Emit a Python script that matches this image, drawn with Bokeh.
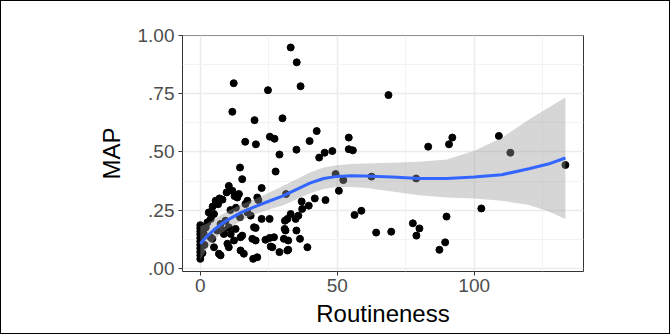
from bokeh.plotting import figure
from bokeh.models import Range1d, FixedTicker
from bokeh.embed import file_html
from bokeh.resources import INLINE

# scatter points (Routineness, MAP)
pts_x = [33.0, 35.2, 36.6, 12.2, 11.7, 24.7, 19.8, 30.0, 16.4, 20.3, 25.4, 27.1, 28.9, 35.1, 42.5,
         39.9, 43.4, 45.4, 48.2, 54.2, 54.2, 55.7, 68.7, 83.2, 90.8, 92.0, 109.0, 113.2, 133.3, 102.6,
         49.4, 52.2, 50.6, 62.5, 78.8, 56.3, 58.8, 64.2, 69.7, 77.6, 80.0, 78.9, 89.9, 89.4, 87.3,
         27.5, 22.4, 21.2, 31.3, 41.8, 45.7, 37.0, 39.6, 37.2, 33.0, 35.8, 34.8, 31.8, 30.9, 22.4,
         25.3, 31.1, 35.1, 30.5, 32.1, 36.4, 25.3, 23.8, 25.7, 39.1, 32.1, 28.9, 20.2, 20.2, 20.8,
         30.8, 26.9, 26.3, 31.8,
         14.5, 15.3, 10.4, 11.7, 9.6, 13.5, 14.1, 17.2, 16.5, 5.6, 7.0, 8.1, 12.5, 20.8, 17.2,
         18.4, 14.5, 19.6, 19.0, 15.3, 14.7, 15.9, 19.3, 8.6, 5.0, 6.8, 10.4, 12.3, 9.2, 3.1,
         2.6, 3.8, 5.0, 6.2, 3.8, 7.4, 10.4, 11.1, 12.9, 9.9, 7.4, 4.4, 8.6, 13.0, 11.0,
         4.5, 6.5, 14.7,
         0.0, 0.0, 0.0, 0.0, 0.0, 0.0, 0.0, 0.0, 0.0, 0.0, 0.0, 0.8, 1.2, 1.5, 2.0]
pts_y = [0.950, 0.886, 0.783, 0.796, 0.673, 0.766, 0.637, 0.645, 0.544, 0.533, 0.566, 0.557, 0.489, 0.510, 0.590,
         0.547, 0.476, 0.497, 0.504, 0.562, 0.512, 0.507, 0.745, 0.523, 0.533, 0.562, 0.569, 0.497, 0.444, 0.257,
         0.405, 0.379, 0.333, 0.394, 0.386, 0.229, 0.247, 0.153, 0.157, 0.193, 0.171, 0.140, 0.222, 0.111, 0.079,
         0.416, 0.345, 0.293, 0.319, 0.300, 0.293, 0.287, 0.269, 0.255, 0.233, 0.226, 0.212, 0.212, 0.204, 0.212,
         0.212, 0.162, 0.162, 0.126, 0.119, 0.126, 0.130, 0.122, 0.093, 0.090, 0.079, 0.069, 0.173, 0.119, 0.047,
         0.169, 0.133, 0.090, 0.076,
         0.433, 0.383, 0.354, 0.333, 0.326, 0.304, 0.319, 0.290, 0.276, 0.290, 0.300, 0.295, 0.310, 0.304, 0.240,
         0.226, 0.219, 0.176, 0.126, 0.140, 0.076, 0.062, 0.040, 0.147, 0.090, 0.062, 0.090, 0.119, 0.204, 0.240,
         0.197, 0.212, 0.233, 0.162, 0.133, 0.190, 0.176, 0.147, 0.169, 0.105, 0.055, 0.126, 0.162, 0.260, 0.250,
         0.265, 0.275, 0.133,
         0.185, 0.172, 0.158, 0.145, 0.130, 0.115, 0.100, 0.085, 0.070, 0.055, 0.040, 0.065, 0.150, 0.100, 0.175]

# loess smooth and its confidence band
sm_x = [0, 2.5, 5, 7.5, 10, 15, 20, 25, 30, 35, 40, 45, 50, 55, 60, 70, 80, 90, 100, 110, 120, 127, 133.3]
sm_y = [0.105, 0.138, 0.165, 0.188, 0.208, 0.240, 0.265, 0.288, 0.310, 0.338, 0.366, 0.386, 0.395, 0.398, 0.397,
        0.392, 0.386, 0.386, 0.392, 0.402, 0.428, 0.448, 0.474]
sm_lo = [0.035, 0.085, 0.120, 0.148, 0.170, 0.205, 0.232, 0.252, 0.270, 0.295, 0.322, 0.341, 0.349, 0.349, 0.346,
         0.330, 0.314, 0.304, 0.300, 0.290, 0.272, 0.245, 0.212]
sm_hi = [0.180, 0.192, 0.210, 0.228, 0.245, 0.275, 0.298, 0.325, 0.352, 0.382, 0.412, 0.433, 0.443, 0.448, 0.450,
         0.454, 0.458, 0.468, 0.505, 0.560, 0.640, 0.690, 0.735]

x_ticks = [0, 50, 100]
x_minor = [25, 75, 125]
y_ticks = [0.0, 0.25, 0.5, 0.75, 1.0]
y_minor = [0.125, 0.375, 0.625, 0.875]
y_labels = [".00", ".25", ".50", ".75", "1.00"]

p = figure(width=670, height=334, output_backend="svg", toolbar_location=None,
           x_range=Range1d(-6.5, 139.9), y_range=Range1d(-0.0145, 1.0015),
           min_border_left=181, min_border_right=88, min_border_top=34, min_border_bottom=64,
           background_fill_color="white", border_fill_color="white",
           styles={"border": "1px solid black"})

p.outline_line_color = "#333333"
p.outline_line_width = 1

xt = FixedTicker(ticks=x_ticks, minor_ticks=x_minor)
yt = FixedTicker(ticks=y_ticks, minor_ticks=y_minor)
p.xaxis.ticker = xt
p.yaxis.ticker = yt
p.xgrid.ticker = xt
p.ygrid.ticker = yt
for g in (p.xgrid, p.ygrid):
    g.grid_line_color = "#EBEBEB"
    g.grid_line_width = 1.5
    g.minor_grid_line_color = "#F3F3F3"
    g.minor_grid_line_width = 1

p.yaxis.major_label_overrides = {t: l for t, l in zip(y_ticks, y_labels)}

for ax in (p.xaxis, p.yaxis):
    ax.axis_line_color = None
    ax.major_tick_line_color = "#333333"
    ax.major_tick_line_width = 1
    ax.major_tick_out = 4
    ax.major_tick_in = 0
    ax.minor_tick_line_color = None
    ax.major_label_text_color = "#4D4D4D"
    ax.major_label_text_font = "Liberation Sans"
    ax.major_label_text_font_size = "19px"
    ax.axis_label_text_font = "Liberation Sans"
    ax.axis_label_text_font_size = "24px"
    ax.axis_label_text_font_style = "normal"
    ax.axis_label_text_color = "black"

p.xaxis.axis_label = "Routineness"
p.yaxis.axis_label = "MAP"
p.xaxis.major_label_standoff = 3
p.yaxis.major_label_standoff = 4
p.xaxis.axis_label_standoff = 5
p.yaxis.axis_label_standoff = 10

p.scatter(pts_x, pts_y, size=7, fill_color="black", line_color="black")
p.varea(x=sm_x, y1=sm_lo, y2=sm_hi, fill_color="#999999", fill_alpha=0.4)
p.line(sm_x, sm_y, line_color="#3366FF", line_width=3)

open("out.html", "w").write(file_html(p, INLINE))
